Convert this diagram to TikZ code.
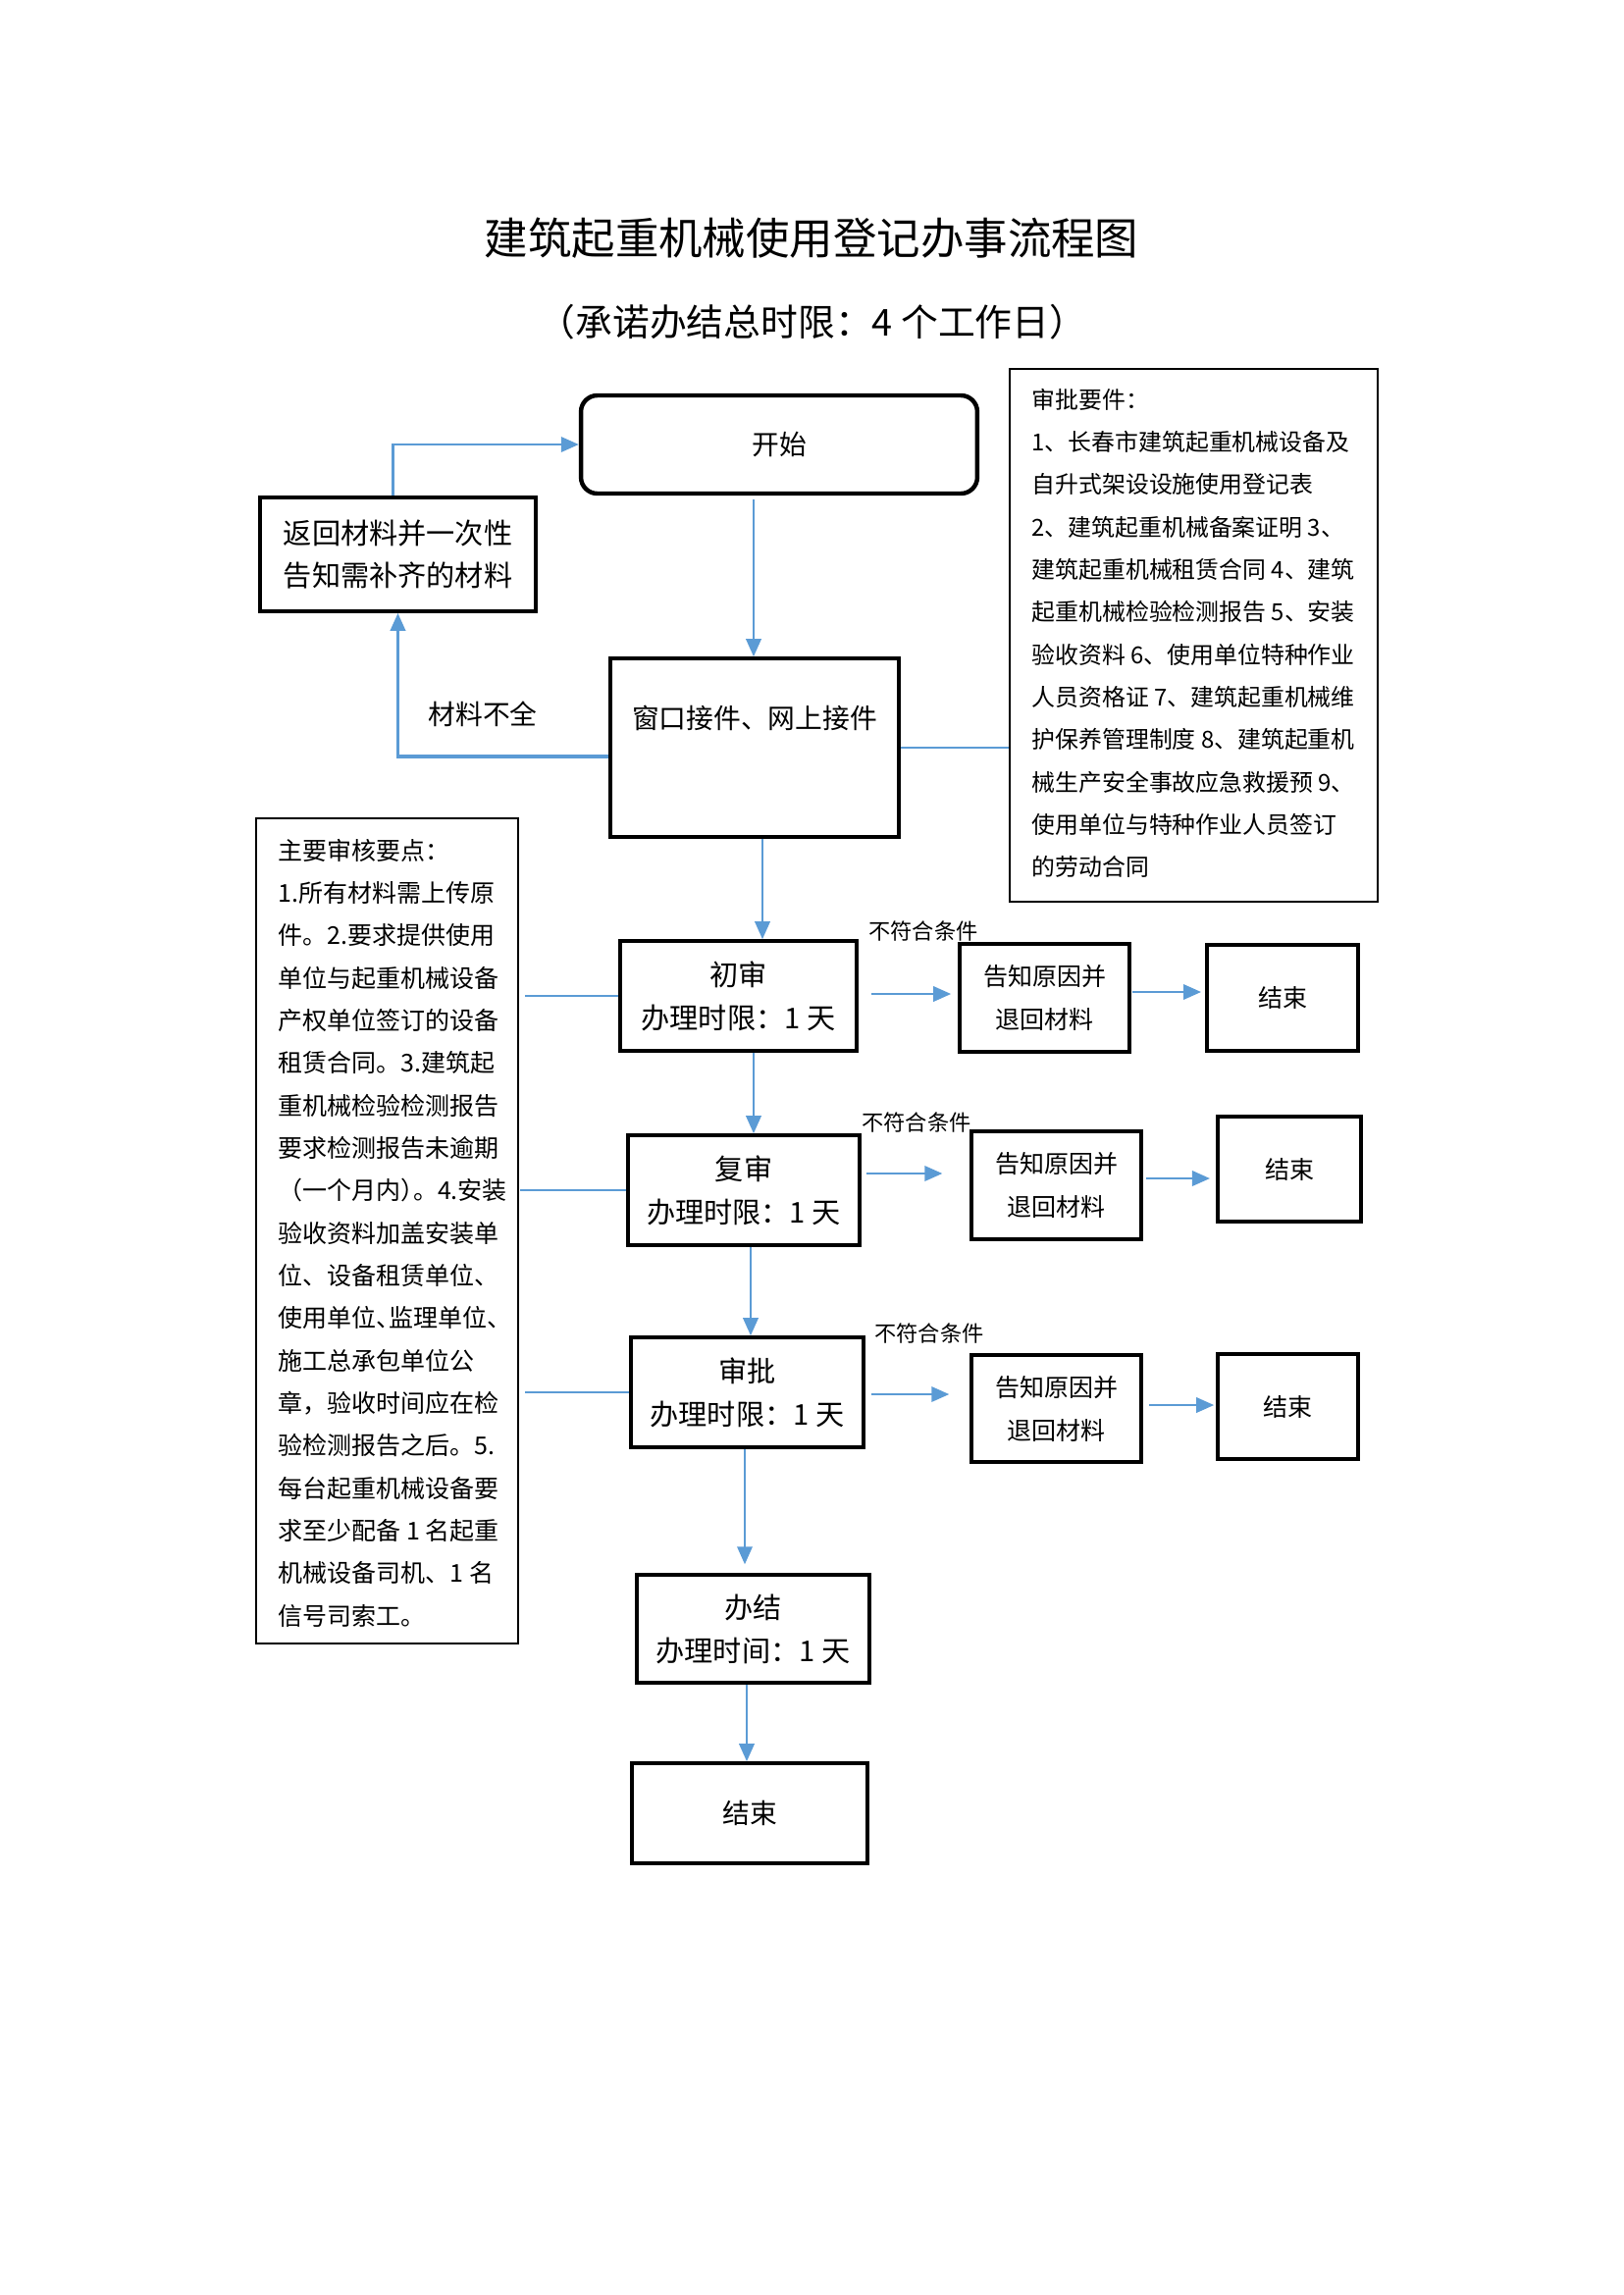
\documentclass[tikz,border=0pt]{standalone}
\usepackage{fontspec}
\setmainfont{Noto Sans CJK SC}
\usetikzlibrary{arrows.meta,calc}
\definecolor{flowblue}{HTML}{5B9BD5}
\newcommand\hdun{\makebox[0.5em][l]{、}}
\newcommand\hrpar{\makebox[0.5em][l]{）}}
\begin{document}
\begin{tikzpicture}[x=0.36pt,y=-0.36pt,
  procbox/.style={draw, line width=1.3pt, inner sep=0pt, align=center, font=\fontsize{10.5}{15.8}\selectfont},
  smallbox/.style={draw, line width=1.3pt, inner sep=0pt, align=center, font=\fontsize{9}{15.8}\selectfont},
  infobox/.style={draw, line width=0.75pt, inner sep=0pt},
  infotext/.style={inner sep=0pt, align=left, anchor=west},
  arr/.style={draw=flowblue, line width=0.95pt, -{Triangle[length=6.5pt,width=5.5pt]}},
  link/.style={draw=flowblue, line width=0.9pt},
  lbl/.style={inner sep=0pt, font=\fontsize{8}{10}\selectfont}]
\fill[white] (0,0) rectangle (1654,2339);
\useasboundingbox (0,0) rectangle (1654,2339);

% titles
\node[font=\fontsize{16}{20}\selectfont, inner sep=0pt] (title) at (827,243) {建筑起重机械使用登记办事流程图};
\node[font=\fontsize{13.6}{16}\selectfont, inner sep=0pt] (subtitle) at (828,328) {（承诺办结总时限：4 个工作日）};

% top part
\node[draw, rounded corners=6pt, line width=1.6pt, minimum width=145.4pt, minimum height=36pt, inner sep=0pt, font=\fontsize{10}{12}\selectfont] (start) at (794,453) {开始};
\node[procbox, minimum width=101.2pt, minimum height=41.8pt] (ret) at (405.5,565) {返回材料并一次性\\告知需补齐的材料};
\node[procbox, minimum width=105.8pt, minimum height=65.5pt] (win) at (769,762) {};
\node[inner sep=0pt, font=\fontsize{10}{12}\selectfont] (wintext) at (769,732) {窗口接件、网上接件};
\node[inner sep=0pt, font=\fontsize{10}{12}\selectfont] (lack) at (492,728) {材料不全};

% requirement box
\node[infobox, minimum width=135pt, minimum height=195.5pt] (req) at (1216.5,647.5) {};
\node[infotext, font=\fontsize{8.6}{15.6}\selectfont] (reqtext) at (1051,645.5) {审批要件：\\
1、长春市建筑起重机械设备及\\
自升式架设设施使用登记表\\
2、建筑起重机械备案证明 3、\\
建筑起重机械租赁合同 4、建筑\\
起重机械检验检测报告 5、安装\\
验收资料 6、使用单位特种作业\\
人员资格证 7、建筑起重机械维\\
护保养管理制度 8、建筑起重机\\
械生产安全事故应急救援预 9、\\
使用单位与特种作业人员签订\\
的劳动合同};

% main review points box
\node[infobox, minimum width=96.1pt, minimum height=302.8pt] (main) at (394.5,1254.5) {};
\node[infotext, font=\fontsize{9}{15.6}\selectfont] (maintext) at (283,1256.5) {主要审核要点：\\
1.所有材料需上传原\\
件。2.要求提供使用\\
单位与起重机械设备\\
产权单位签订的设备\\
租赁合同。3.建筑起\\
重机械检验检测报告\\
要求检测报告未逾期\\
（一个月内\hrpar 。4.安装\\
验收资料加盖安装单\\
位、设备租赁单位、\\
使用单位\hdun 监理单位、\\
施工总承包单位公\\
章，验收时间应在检\\
验检测报告之后。5.\\
每台起重机械设备要\\
求至少配备 1 名起重\\
机械设备司机、1 名\\
信号司索工。};

% process column
\node[procbox, minimum width=86.8pt, minimum height=40.3pt] (c1) at (752.5,1015) {初审\\办理时限：1 天};
\node[procbox, minimum width=85pt, minimum height=40.3pt] (c2) at (758,1213) {复审\\办理时限：1 天};
\node[procbox, minimum width=85.3pt, minimum height=40.3pt] (c3) at (761.5,1419) {审批\\办理时限：1 天};
\node[procbox, minimum width=85.3pt, minimum height=39.6pt] (done) at (767.5,1660) {办结\\办理时间：1 天};
\node[procbox, minimum width=86.4pt, minimum height=36.7pt, font=\fontsize{10}{12}\selectfont] (end) at (764,1848) {结束};

% reject boxes
\node[smallbox, minimum width=62.3pt, minimum height=39.6pt] (g1) at (1064.5,1017) {告知原因并\\退回材料};
\node[smallbox, minimum width=55.4pt, minimum height=38.9pt] (e1) at (1307,1017) {结束};
\node[smallbox, minimum width=62.3pt, minimum height=39.6pt] (g2) at (1076.5,1208) {告知原因并\\退回材料};
\node[smallbox, minimum width=52.6pt, minimum height=38.5pt] (e2) at (1314,1191.5) {结束};
\node[smallbox, minimum width=62.3pt, minimum height=39.2pt] (g3) at (1076.5,1435.5) {告知原因并\\退回材料};
\node[smallbox, minimum width=51.5pt, minimum height=38.5pt] (e3) at (1312.5,1433.5) {结束};

\node[lbl] (n1) at (941,949) {不符合条件};
\node[lbl] (n2) at (934,1144) {不符合条件};
\node[lbl] (n3) at (947,1359) {不符合条件};

% connectors
\coordinate (a1) at ($(start.south)+(-26,4)$);
\draw[arr] (a1) -- (a1 |- win.north);
\coordinate (a2) at ($(win.west)+(0,9)$);
\draw[arr, line width=1.1pt] (a2) -| (ret.south);
\coordinate (a3) at ($(ret.north)+(-5,0)$);
\draw[arr] (a3) |- (start.west);
\draw[link] (win.east) -- (win.east -| req.west);
\coordinate (a5) at ($(win.south)+(8,0)$);
\draw[arr] (a5) -- (a5 |- c1.north);

\coordinate (a6) at ($(c1.east)+(0,-2)$);
\draw[arr, shorten <=4.7pt, shorten >=2.5pt] (a6) -- (a6 -| g1.west);
\coordinate (a7) at ($(g1.east)+(0,-6)$);
\draw[arr, shorten <=0.4pt, shorten >=1.5pt] (a7) -- (a7 -| e1.west);

\coordinate (a8) at ($(c1.south)+(15.5,0)$);
\draw[arr] (a8) -- (a8 |- c2.north);
\coordinate (a9) at ($(c2.east)+(0,-17)$);
\draw[arr, shorten <=1.8pt, shorten >=10pt] (a9) -- (a9 -| g2.west);
\coordinate (a10) at ($(g2.east)+(0,-7)$);
\draw[arr, shorten <=1pt, shorten >=2.2pt] (a10) -- (a10 -| e2.west);

\coordinate (a11) at ($(c2.south)+(7,0)$);
\draw[arr] (a11) -- (a11 |- c3.north);
\coordinate (a12) at ($(c3.east)+(0,2)$);
\draw[arr, shorten <=2.2pt, shorten >=7.5pt] (a12) -- (a12 -| g3.west);
\coordinate (a13) at ($(g3.east)+(0,-3.5)$);
\draw[arr, shorten <=2.2pt, shorten >=0.7pt] (a13) -- (a13 -| e3.west);

\coordinate (a14) at ($(c3.south)+(-2.5,0)$);
\draw[arr, shorten >=3.2pt] (a14) -- (a14 |- done.north);
\coordinate (a15) at ($(done.south)+(-6.5,0)$);
\draw[arr] (a15) -- (a15 |- end.north);

\draw[link, shorten >=2.2pt] (c1.west) -- (c1.west -| main.east);
\draw[link, shorten >=0.4pt] (c2.west) -- (c2.west -| main.east);
\draw[link, shorten >=2.2pt] (c3.west) -- (c3.west -| main.east);
\end{tikzpicture}
\end{document}
